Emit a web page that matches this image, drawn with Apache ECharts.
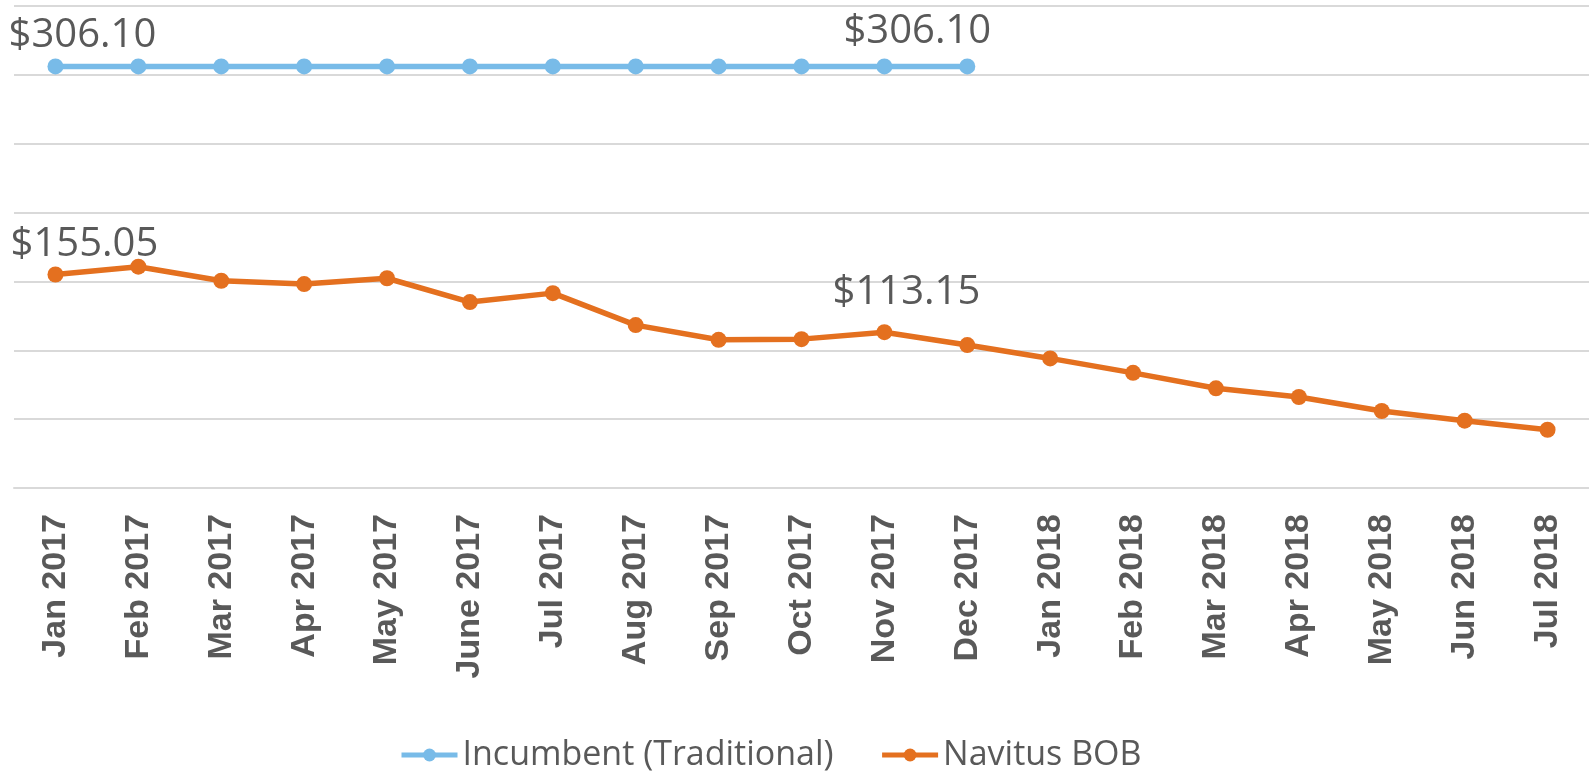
<!DOCTYPE html>
<html>
<head>
<meta charset="utf-8">
<script src="https://cdn.jsdelivr.net/npm/echarts@6/dist/echarts.min.js"></script>
<style>
  html, body { margin: 0; padding: 0; background: #fff; }
  #chart { width: 1589px; height: 771px; }
</style>
</head>
<body>
<div id="chart"></div>
<script>
// months on the x axis
var months = ['Jan 2017', 'Feb 2017', 'Mar 2017', 'Apr 2017', 'May 2017', 'June 2017', 'Jul 2017',
  'Aug 2017', 'Sep 2017', 'Oct 2017', 'Nov 2017', 'Dec 2017', 'Jan 2018', 'Feb 2018',
  'Mar 2018', 'Apr 2018', 'May 2018', 'Jun 2018', 'Jul 2018'];

// Incumbent only runs through Dec 2017
var incumbent = [306.10, 306.10, 306.10, 306.10, 306.10, 306.10, 306.10, 306.10, 306.10, 306.10, 306.10, 306.10,
  null, null, null, null, null, null, null];

var navitus = [155.05, 160.7, 150.5, 148.1, 152.3, 135.0, 141.5, 118.3, 107.6, 108.1, 113.15, 103.8,
  94.1, 83.6, 72.4, 66.1, 55.9, 48.9, 42.3];

// which points get a price label
var incumbentLabelIdx = [0, 11];
var navitusLabelIdx = [0, 10];

// label offsets from the point (by hand, like the excel one)
var labelOffsets = {
  incumbent: { 0: [27, -31], 11: [-50, -35] },
  navitus: { 0: [29, -30], 10: [22, -40] }
};

function withLabels(values, idxList, offsets) {
  return values.map(function (v, i) {
    if (idxList.indexOf(i) < 0) return v;
    return {
      value: v,
      label: {
        show: true,
        position: 'inside',
        offset: offsets[i],
        formatter: function (p) { return '$' + p.value.toFixed(2); }
      }
    };
  });
}

var labelStyle = {
  show: false,
  fontFamily: 'Open Sans',
  fontSize: 40,
  color: '#595959',
  align: 'center',
  verticalAlign: 'middle'
};

var myChart = echarts.init(document.getElementById('chart'));

var option = {
  animation: false,
  grid: {
    left: 14,
    right: -1,
    top: 6,
    bottom: 283
  },
  legend: {
    left: 394,
    top: 733,
    itemWidth: 56,
    itemHeight: 16,
    itemGap: 46,
    lineStyle: { width: 5 },
    textStyle: {
      fontFamily: 'Open Sans',
      fontSize: 34,
      color: '#595959'
    },
    data: ['Incumbent (Traditional)', 'Navitus BOB']
  },
  xAxis: {
    type: 'category',
    data: months,
    boundaryGap: true,
    axisLine: { show: true, lineStyle: { color: '#d9d9d9', width: 2 } },
    axisTick: { show: false },
    axisLabel: {
      rotate: 90,
      margin: 26,
      interval: 0,
      fontFamily: 'Liberation Sans',
      fontWeight: 'bold',
      fontSize: 34,
      color: '#595959'
    }
  },
  yAxis: {
    type: 'value',
    min: 0,
    max: 350,
    interval: 50,
    axisLabel: { show: false },
    axisLine: { show: false },
    axisTick: { show: false },
    splitLine: { lineStyle: { color: '#d9d9d9', width: 2 } }
  },
  series: [
    {
      name: 'Incumbent (Traditional)',
      type: 'line',
      data: withLabels(incumbent, incumbentLabelIdx, labelOffsets.incumbent),
      symbol: 'circle',
      symbolSize: 16,
      showAllSymbol: true,
      itemStyle: { color: '#78bbe8' },
      lineStyle: { color: '#78bbe8', width: 5.5 },
      label: labelStyle,
      z: 3
    },
    {
      name: 'Navitus BOB',
      type: 'line',
      data: withLabels(navitus, navitusLabelIdx, labelOffsets.navitus),
      symbol: 'circle',
      symbolSize: 16,
      showAllSymbol: true,
      itemStyle: { color: '#e4701f' },
      lineStyle: { color: '#e4701f', width: 5.5 },
      label: labelStyle,
      z: 2
    }
  ]
};

myChart.setOption(option);
</script>
</body>
</html>
